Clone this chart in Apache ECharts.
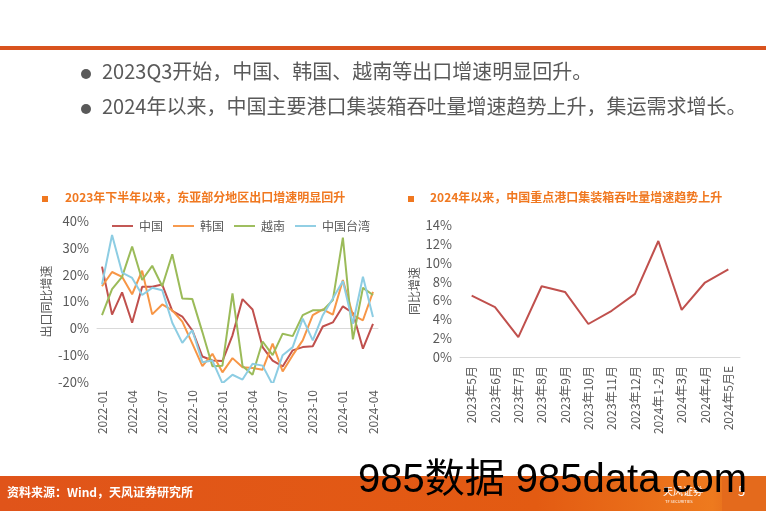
<!DOCTYPE html>
<html><head><meta charset="utf-8">
<script src="https://cdn.jsdelivr.net/npm/echarts@6/dist/echarts.min.js"></script>
<style>html,body{margin:0;padding:0;background:#fff}#c{width:766px;height:511px}</style>
</head><body><div id="c"></div>
<script>
const months = ['2022-01','2022-02','2022-03','2022-04','2022-05','2022-06','2022-07','2022-08','2022-09','2022-10','2022-11','2022-12','2023-01','2023-02','2023-03','2023-04','2023-05','2023-06','2023-07','2023-08','2023-09','2023-10','2023-11','2023-12','2024-01','2024-02','2024-03','2024-04'];
const china = [23,5.1,13.4,2.1,15.5,15.5,16.3,6.5,4.4,-0.8,-10.5,-12,-12.2,-2.6,10.9,7,-7,-12,-14.2,-8.2,-7,-6.7,0.7,2.2,8.2,5.7,-7.6,1.7];
const korea = [15.7,21,19.2,12.7,21.5,5.2,8.9,6.7,2.5,-5.7,-14.1,-9.5,-16.4,-11.1,-14.5,-14.8,-15.4,-5.7,-16.1,-10,-4.5,4.9,7.1,5.1,18,4.9,3,13.6];
const vietnam = [4.9,14.6,19.2,30.5,18,23.3,15.7,27.6,11.1,10.9,-1.4,-14.1,-13.9,13,-14,-17.3,-4.9,-10,-2,-2.9,4.9,6.7,6.7,10.5,33.8,-4.1,15.1,12.4];
const taiwan = [16.4,34.8,20.8,18.8,12.4,15.1,14.2,2.1,-5.4,-0.7,-12.6,-12,-20.5,-17.3,-19.1,-13.2,-13.9,-21,-10,-7,3.6,-4.5,4.9,11.1,17.6,1.7,19.2,4.2];
const portMonths = ['2023年5月','2023年6月','2023年7月','2023年8月','2023年9月','2023年10月','2023年11月','2023年12月','2024年1-2月','2024年3月','2024年4月','2024年5月E'];
const portGrowth = [6.5,5.3,2.1,7.5,6.9,3.5,4.9,6.7,12.3,5.0,7.9,9.3];
const leftTicks = [-20,40,10];
const rightTicks = [0,14,2];

const FONT = '"Noto Sans CJK SC","Noto Sans",sans-serif';
const GREY = '#595959';
const chart = echarts.init(document.getElementById('c'));

function lineSeries(name, data, color, xi, yi) {
  return {name, type:'line', data, xAxisIndex:xi, yAxisIndex:yi, symbol:'none',
    lineStyle:{color, width:2}, itemStyle:{color}};
}
const lineIcon = 'path://M0,0L22,0L22,2L0,2Z';
const WM = '"Liberation Sans","Noto Sans CJK SC",sans-serif';

chart.setOption({
  animation:false,
  backgroundColor:'#fff',
  textStyle:{fontFamily:FONT},
  legend:{left:107, top:215, itemWidth:21, itemHeight:2, itemGap:10,
    textStyle:{color:GREY, fontSize:12, fontFamily:FONT, padding:[0,0,0,1]},
    data:[{name:'中国',icon:lineIcon},{name:'韩国',icon:lineIcon},{name:'越南',icon:lineIcon},{name:'中国台湾',icon:lineIcon}]},
  grid:[
    {left:97, right:388, top:221, bottom:129},
    {left:460, right:26, top:225, bottom:154}
  ],
  xAxis:[
    {type:'category', gridIndex:0, data:months, boundaryGap:true,
      axisLine:{lineStyle:{color:'#D9D9D9'}},
      axisTick:{interval:2, lineStyle:{color:'#D9D9D9'}, length:5},
      axisLabel:{interval:2, rotate:90, color:GREY, fontSize:12, fontFamily:FONT, margin:8}},
    {type:'category', gridIndex:1, data:portMonths, boundaryGap:true,
      axisLine:{lineStyle:{color:'#D9D9D9'}},
      axisTick:{show:false},
      axisLabel:{interval:0, rotate:90, color:GREY, fontSize:12, fontFamily:FONT, margin:9}}
  ],
  yAxis:[
    {type:'value', gridIndex:0, min:leftTicks[0], max:leftTicks[1], interval:leftTicks[2],
      name:'出口同比增速', nameLocation:'middle', nameGap:45, nameRotate:90,
      nameTextStyle:{color:GREY, fontSize:12, fontFamily:FONT},
      splitLine:{show:false}, axisLine:{show:false}, axisTick:{show:false},
      axisLabel:{formatter:'{value}%', color:GREY, fontSize:13, fontFamily:FONT, margin:8}},
    {type:'value', gridIndex:1, min:rightTicks[0], max:rightTicks[1], interval:rightTicks[2],
      name:'同比增速', nameLocation:'middle', nameGap:40, nameRotate:90,
      nameTextStyle:{color:GREY, fontSize:12, fontFamily:FONT},
      splitLine:{show:false}, axisLine:{show:false}, axisTick:{show:false},
      axisLabel:{formatter:'{value}%', color:GREY, fontSize:13, fontFamily:FONT, margin:8}}
  ],
  series:[
    lineSeries('中国', china, '#C0504D', 0, 0),
    lineSeries('韩国', korea, '#F79646', 0, 0),
    lineSeries('越南', vietnam, '#9BBB59', 0, 0),
    lineSeries('中国台湾', taiwan, '#8DCDE3', 0, 0),
    lineSeries('港口集装箱吞吐量增速', portGrowth, '#C0504D', 1, 1)
  ],
  graphic:[
    {type:'rect', shape:{x:0,y:46,width:766,height:4}, style:{fill:'#D9531E'}},
    {type:'circle', shape:{cx:86,cy:74,r:5}, style:{fill:GREY}},
    {type:'text', left:102, top:61, style:{text:'2023Q3开始，中国、韩国、越南等出口增速明显回升。', fill:GREY, fontSize:20, fontFamily:FONT}},
    {type:'circle', shape:{cx:86,cy:109,r:5}, style:{fill:GREY}},
    {type:'text', left:102, top:96, style:{text:'2024年以来，中国主要港口集装箱吞吐量增速趋势上升，集运需求增长。', fill:GREY, fontSize:20, fontFamily:FONT}},
    {type:'rect', shape:{x:42,y:196,width:6,height:6}, style:{fill:'#F07820'}},
    {type:'text', left:65, top:191, style:{text:'2023年下半年以来，东亚部分地区出口增速明显回升', fill:'#F07820', fontSize:12, fontWeight:'bold', fontFamily:FONT}},
    {type:'rect', shape:{x:408,y:196,width:6,height:6}, style:{fill:'#F07820'}},
    {type:'text', left:430, top:191, style:{text:'2024年以来，中国重点港口集装箱吞吐量增速趋势上升', fill:'#F07820', fontSize:12, fontWeight:'bold', fontFamily:FONT}},
    {type:'rect', shape:{x:0,y:476,width:766,height:35}, style:{fill:new echarts.graphic.LinearGradient(0,0,1,0,[{offset:0,color:'#E0541A'},{offset:0.7,color:'#E35B12'},{offset:0.93,color:'#EE7A1E'},{offset:1,color:'#D9581A'}])}},
    {type:'rect', shape:{x:722,y:476,width:44,height:35}, style:{fill:'#E46A1C'}},
    {type:'text', left:7, top:486, style:{text:'资料来源：Wind，天风证券研究所', fill:'#fff', fontSize:12, fontWeight:'bold', fontFamily:FONT}},
    {type:'text', left:663, top:486, style:{text:'天风证券', fill:'#fff', fontSize:10, fontFamily:FONT}},
    {type:'text', left:665, top:499, style:{text:'TF SECURITIES', fill:'#fff', fontSize:4, fontFamily:FONT}},
    {type:'text', left:738, top:485, style:{text:'5', fill:'#fff', fontSize:13, fontFamily:FONT}},
    {type:'text', left:358, top:461, style:{text:'985数据 985data.com', fill:'#000', fontSize:40, fontFamily:WM}}
  ]
});
</script></body></html>
